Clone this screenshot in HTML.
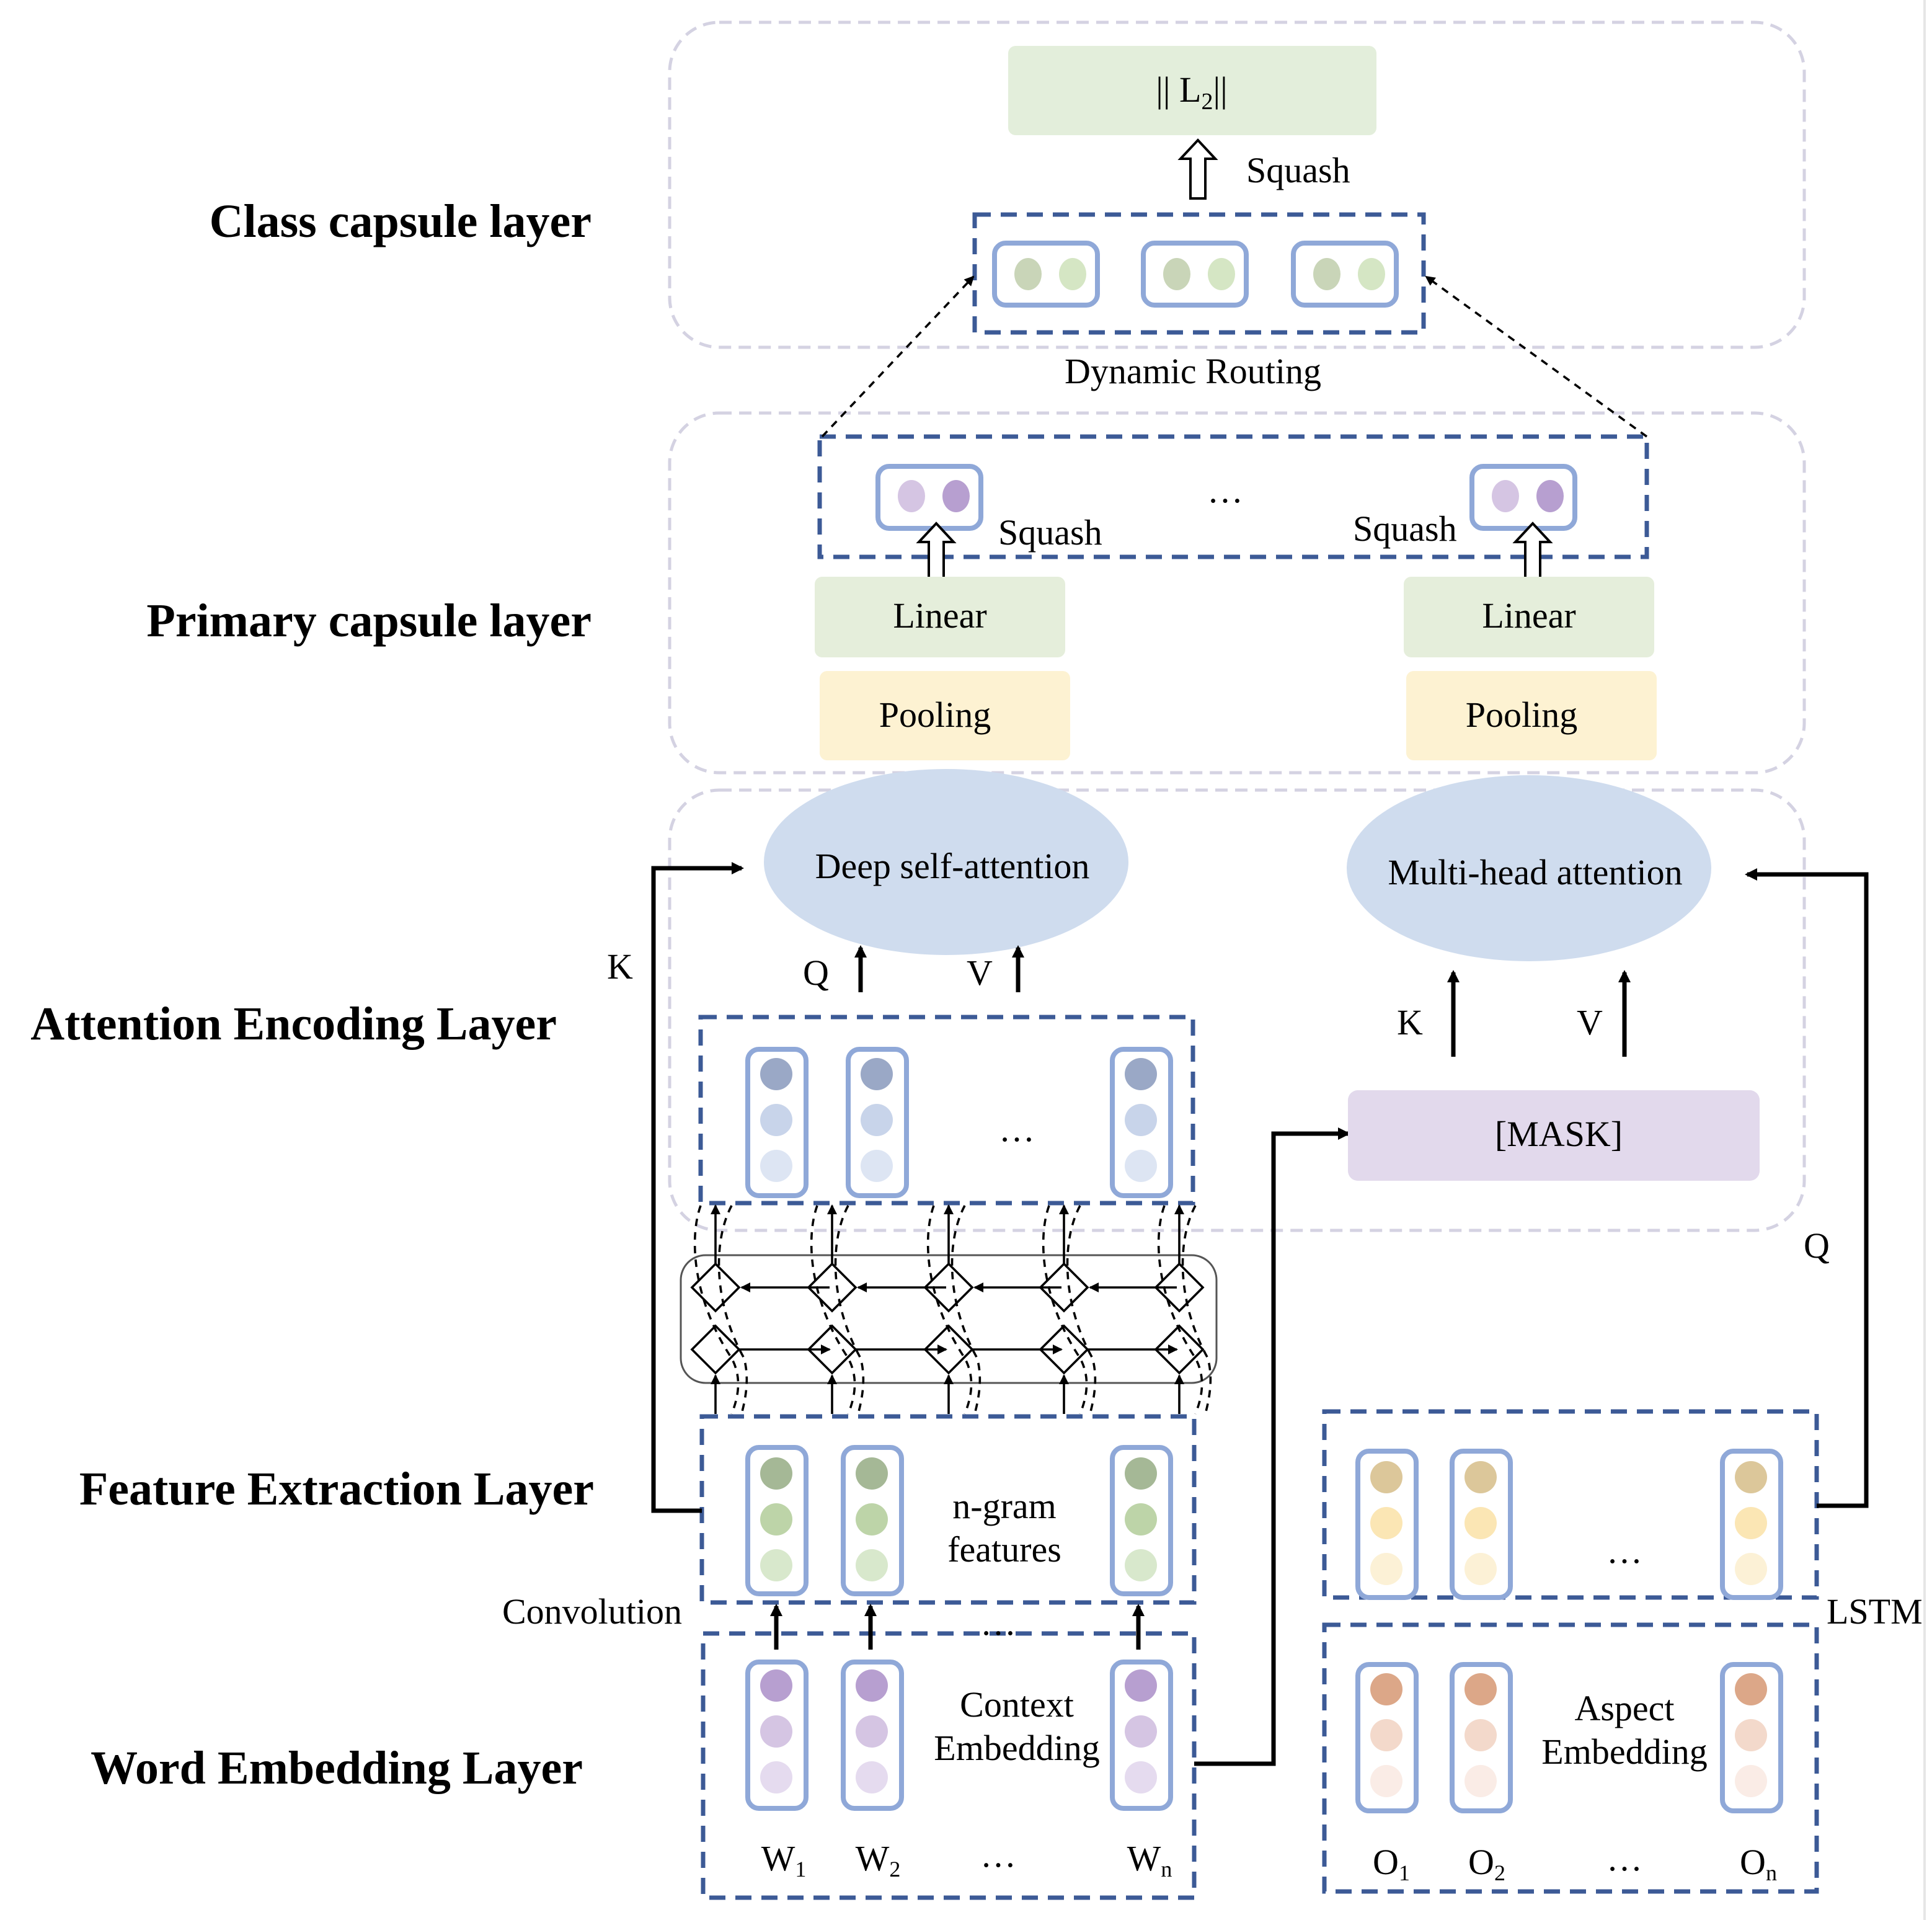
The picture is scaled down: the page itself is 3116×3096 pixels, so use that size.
<!DOCTYPE html>
<html><head><meta charset="utf-8"><style>
html,body{margin:0;padding:0;background:#fff;}
svg{display:block;}
text{font-family:"Liberation Serif",serif;fill:#000;}
.lbl{font-weight:bold;font-size:38px;text-anchor:end;}
.t{font-size:29px;text-anchor:middle;}
</style></head><body>
<svg width="3116" height="3096" viewBox="0 0 1558 1548" xmlns="http://www.w3.org/2000/svg">
<defs>
<marker id="ah" markerWidth="10" markerHeight="10" refX="8" refY="5" orient="auto" markerUnits="userSpaceOnUse"><path d="M0,0 L10,5 L0,10 z" fill="#000"/></marker>
<marker id="as" markerWidth="8" markerHeight="8" refX="7" refY="4" orient="auto" markerUnits="userSpaceOnUse"><path d="M0,0 L8,4 L0,8 z" fill="#000"/></marker>
</defs>
<g fill="none" stroke="#d4d2e2" stroke-width="2.5" stroke-dasharray="10 6">
<rect x="540" y="18" width="915" height="262" rx="40"/>
<rect x="540" y="333" width="915" height="290" rx="40"/>
<rect x="540" y="637" width="915" height="355" rx="40"/>
</g>
<line x1="1552" y1="0" x2="1552" y2="1548" stroke="#e6e6e6" stroke-width="2"/>
<text class="lbl" x="477" y="191">Class capsule layer</text>
<text class="lbl" x="477" y="513">Primary capsule layer</text>
<text class="lbl" x="449" y="838">Attention Encoding Layer</text>
<text class="lbl" x="479" y="1213">Feature Extraction Layer</text>
<text class="lbl" x="470" y="1438">Word Embedding Layer</text>

<rect x="813" y="37" width="297" height="72" rx="6" fill="#e3eedb"/>
<text class="t" x="961" y="82">|| L<tspan font-size="19" dy="6">2</tspan><tspan dy="-6">||</tspan></text>
<path d="M966,113 L980,128 L972,128 L972,160 L960,160 L960,128 L952,128 Z" fill="#fff" stroke="#000" stroke-width="2"/>
<text x="1005" y="147" font-size="29">Squash</text>
<g fill="none" stroke="#3c5a96" stroke-width="3.5" stroke-dasharray="13 8">
<rect x="786" y="173" width="362" height="95"/>
<rect x="661" y="352" width="667" height="97"/>
<rect x="565" y="820" width="397" height="150"/>
<rect x="566" y="1142" width="397" height="150"/>
<rect x="567" y="1317" width="396" height="213"/>
<rect x="1068" y="1138" width="397" height="150"/>
<rect x="1068" y="1310" width="397" height="215"/>
</g>
<g>
<rect x="802" y="196" width="83" height="50" rx="9" fill="#fff" stroke="#8fa8d8" stroke-width="4"/>
<rect x="922" y="196" width="83" height="50" rx="9" fill="#fff" stroke="#8fa8d8" stroke-width="4"/>
<rect x="1043" y="196" width="83" height="50" rx="9" fill="#fff" stroke="#8fa8d8" stroke-width="4"/>
<ellipse cx="829" cy="221" rx="11" ry="13" fill="#c9d5b8"/><ellipse cx="865" cy="221" rx="11" ry="13" fill="#d5e6c4"/>
<ellipse cx="949" cy="221" rx="11" ry="13" fill="#c9d5b8"/><ellipse cx="985" cy="221" rx="11" ry="13" fill="#d5e6c4"/>
<ellipse cx="1070" cy="221" rx="11" ry="13" fill="#c9d5b8"/><ellipse cx="1106" cy="221" rx="11" ry="13" fill="#d5e6c4"/>
</g>
<text class="t" x="962" y="309">Dynamic Routing</text>
<line x1="663" y1="352" x2="785" y2="223" stroke="#000" stroke-width="1.8" stroke-dasharray="6 5" marker-end="url(#as)"/>
<line x1="1328" y1="352" x2="1150" y2="223" stroke="#000" stroke-width="1.8" stroke-dasharray="6 5" marker-end="url(#as)"/>

<rect x="708" y="376" width="83" height="50" rx="9" fill="#fff" stroke="#8fa8d8" stroke-width="4"/>
<rect x="1187" y="376" width="83" height="50" rx="9" fill="#fff" stroke="#8fa8d8" stroke-width="4"/>
<ellipse cx="735" cy="400" rx="11" ry="13" fill="#d5c5e3"/><ellipse cx="771" cy="400" rx="11" ry="13" fill="#b79fd0"/>
<ellipse cx="1214" cy="400" rx="11" ry="13" fill="#d5c5e3"/><ellipse cx="1250" cy="400" rx="11" ry="13" fill="#b79fd0"/>
<path d="M755,422 L769,437 L761,437 L761,468 L749,468 L749,437 L741,437 Z" fill="#fff" stroke="#000" stroke-width="2"/>
<path d="M1236,422 L1250,437 L1242,437 L1242,468 L1230,468 L1230,437 L1222,437 Z" fill="#fff" stroke="#000" stroke-width="2"/>
<text x="805" y="439" font-size="29">Squash</text>
<text x="1091" y="436" font-size="29">Squash</text>
<text class="t" x="988" y="405">…</text>
<rect x="657" y="465" width="202" height="65" rx="6" fill="#e5eedb"/>
<rect x="1132" y="465" width="202" height="65" rx="6" fill="#e5eedb"/>
<text class="t" x="758" y="506">Linear</text><text class="t" x="1233" y="506">Linear</text>
<rect x="661" y="541" width="202" height="72" rx="6" fill="#fdf2d2"/>
<rect x="1134" y="541" width="202" height="72" rx="6" fill="#fdf2d2"/>
<text class="t" x="754" y="586">Pooling</text><text class="t" x="1227" y="586">Pooling</text>

<ellipse cx="763" cy="695" rx="147" ry="75" fill="#cfdcee"/>
<ellipse cx="1233" cy="700" rx="147" ry="75" fill="#cfdcee"/>
<text class="t" x="768" y="708">Deep self-attention</text>
<text class="t" x="1238" y="713">Multi-head attention</text>
<g stroke="#000" stroke-width="3.5" fill="none" marker-end="url(#ah)">
<line x1="694" y1="800" x2="694" y2="764"/>
<line x1="821" y1="800" x2="821" y2="764"/>
<line x1="1172" y1="852" x2="1172" y2="784"/>
<line x1="1310" y1="852" x2="1310" y2="784"/>
<polyline points="566,1218 527,1218 527,700 598,700"/>
<polyline points="963,1422 1027,1422 1027,914 1087,914"/>
<polyline points="1465,1214 1505,1214 1505,705 1409,705"/>
<line x1="626" y1="1330" x2="626" y2="1295"/>
<line x1="702" y1="1330" x2="702" y2="1295"/>
<line x1="918" y1="1330" x2="918" y2="1295"/>
</g>
<text class="t" x="658" y="794">Q</text><text class="t" x="790" y="794">V</text>
<text class="t" x="1137" y="834">K</text><text class="t" x="1282" y="834">V</text>
<text class="t" x="500" y="789">K</text>
<text class="t" x="1465" y="1014">Q</text>
<rect x="1087" y="879" width="332" height="73" rx="8" fill="#e2d9ec"/>
<text class="t" x="1257" y="924">[MASK]</text>

<g stroke="#8fa8d8" stroke-width="4" fill="#fff">
<rect x="603" y="846" width="47" height="118" rx="9"/><rect x="684" y="846" width="47" height="118" rx="9"/><rect x="897" y="846" width="47" height="118" rx="9"/>
<rect x="603" y="1167" width="47" height="118" rx="9"/><rect x="680" y="1167" width="47" height="118" rx="9"/><rect x="897" y="1167" width="47" height="118" rx="9"/>
<rect x="603" y="1340" width="47" height="118" rx="9"/><rect x="680" y="1340" width="47" height="118" rx="9"/><rect x="897" y="1340" width="47" height="118" rx="9"/>
<rect x="1095" y="1170" width="47" height="118" rx="9"/><rect x="1171" y="1170" width="47" height="118" rx="9"/><rect x="1389" y="1170" width="47" height="118" rx="9"/>
<rect x="1095" y="1342" width="47" height="118" rx="9"/><rect x="1171" y="1342" width="47" height="118" rx="9"/><rect x="1389" y="1342" width="47" height="118" rx="9"/>
</g>
<g>
<ellipse cx="626" cy="866" rx="13" ry="13" fill="#9aa8c6"/><ellipse cx="626" cy="903" rx="13" ry="13" fill="#c8d4ea"/><ellipse cx="626" cy="940" rx="13" ry="13" fill="#dde5f3"/>
<ellipse cx="707" cy="866" rx="13" ry="13" fill="#9aa8c6"/><ellipse cx="707" cy="903" rx="13" ry="13" fill="#c8d4ea"/><ellipse cx="707" cy="940" rx="13" ry="13" fill="#dde5f3"/>
<ellipse cx="920" cy="866" rx="13" ry="13" fill="#9aa8c6"/><ellipse cx="920" cy="903" rx="13" ry="13" fill="#c8d4ea"/><ellipse cx="920" cy="940" rx="13" ry="13" fill="#dde5f3"/>
<ellipse cx="626" cy="1188" rx="13" ry="13" fill="#a5b896"/><ellipse cx="626" cy="1225" rx="13" ry="13" fill="#bdd4a8"/><ellipse cx="626" cy="1262" rx="13" ry="13" fill="#d8e8cc"/>
<ellipse cx="703" cy="1188" rx="13" ry="13" fill="#a5b896"/><ellipse cx="703" cy="1225" rx="13" ry="13" fill="#bdd4a8"/><ellipse cx="703" cy="1262" rx="13" ry="13" fill="#d8e8cc"/>
<ellipse cx="920" cy="1188" rx="13" ry="13" fill="#a5b896"/><ellipse cx="920" cy="1225" rx="13" ry="13" fill="#bdd4a8"/><ellipse cx="920" cy="1262" rx="13" ry="13" fill="#d8e8cc"/>
<ellipse cx="626" cy="1359" rx="13" ry="13" fill="#b79fd0"/><ellipse cx="626" cy="1396" rx="13" ry="13" fill="#d5c5e3"/><ellipse cx="626" cy="1433" rx="13" ry="13" fill="#e5dbef"/>
<ellipse cx="703" cy="1359" rx="13" ry="13" fill="#b79fd0"/><ellipse cx="703" cy="1396" rx="13" ry="13" fill="#d5c5e3"/><ellipse cx="703" cy="1433" rx="13" ry="13" fill="#e5dbef"/>
<ellipse cx="920" cy="1359" rx="13" ry="13" fill="#b79fd0"/><ellipse cx="920" cy="1396" rx="13" ry="13" fill="#d5c5e3"/><ellipse cx="920" cy="1433" rx="13" ry="13" fill="#e5dbef"/>
<ellipse cx="1118" cy="1191" rx="13" ry="13" fill="#dcc79a"/><ellipse cx="1118" cy="1228" rx="13" ry="13" fill="#fbe6b4"/><ellipse cx="1118" cy="1265" rx="13" ry="13" fill="#fcf1d6"/>
<ellipse cx="1194" cy="1191" rx="13" ry="13" fill="#dcc79a"/><ellipse cx="1194" cy="1228" rx="13" ry="13" fill="#fbe6b4"/><ellipse cx="1194" cy="1265" rx="13" ry="13" fill="#fcf1d6"/>
<ellipse cx="1412" cy="1191" rx="13" ry="13" fill="#dcc79a"/><ellipse cx="1412" cy="1228" rx="13" ry="13" fill="#fbe6b4"/><ellipse cx="1412" cy="1265" rx="13" ry="13" fill="#fcf1d6"/>
<ellipse cx="1118" cy="1362" rx="13" ry="13" fill="#dca788"/><ellipse cx="1118" cy="1399" rx="13" ry="13" fill="#f3d9cb"/><ellipse cx="1118" cy="1436" rx="13" ry="13" fill="#faece6"/>
<ellipse cx="1194" cy="1362" rx="13" ry="13" fill="#dca788"/><ellipse cx="1194" cy="1399" rx="13" ry="13" fill="#f3d9cb"/><ellipse cx="1194" cy="1436" rx="13" ry="13" fill="#faece6"/>
<ellipse cx="1412" cy="1362" rx="13" ry="13" fill="#dca788"/><ellipse cx="1412" cy="1399" rx="13" ry="13" fill="#f3d9cb"/><ellipse cx="1412" cy="1436" rx="13" ry="13" fill="#faece6"/>
</g>
<text class="t" x="820" y="920">…</text>
<text class="t" x="810" y="1224">n-gram</text><text class="t" x="810" y="1259">features</text>
<text class="t" x="820" y="1384">Context</text><text class="t" x="820" y="1419">Embedding</text>
<text class="t" x="1310" y="1387">Aspect</text><text class="t" x="1310" y="1422">Embedding</text>
<text class="t" x="1310" y="1260">…</text>
<text class="t" x="805" y="1318">…</text>
<text x="550" y="1309" font-size="29" text-anchor="end">Convolution</text>
<text x="1473" y="1309" font-size="29">LSTM</text>
<text class="t" x="632" y="1508">W<tspan font-size="18" dy="5">1</tspan></text>
<text class="t" x="708" y="1508">W<tspan font-size="18" dy="5">2</tspan></text>
<text class="t" x="805" y="1505">…</text>
<text class="t" x="927" y="1508">W<tspan font-size="18" dy="5">n</tspan></text>
<text class="t" x="1122" y="1511">O<tspan font-size="18" dy="5">1</tspan></text>
<text class="t" x="1199" y="1511">O<tspan font-size="18" dy="5">2</tspan></text>
<text class="t" x="1310" y="1508">…</text>
<text class="t" x="1418" y="1511">O<tspan font-size="18" dy="5">n</tspan></text>

<rect x="549" y="1012" width="432" height="103" rx="20" fill="none" stroke="#555" stroke-width="1.5"/>
<g stroke="#000" stroke-width="1.8" fill="none">
<g id="col">
<path d="M577,1019 L596,1038 L577,1057 L558,1038 Z"/>
<path d="M577,1069 L596,1088 L577,1107 L558,1088 Z"/>
<line x1="577" y1="1019" x2="577" y2="972" marker-end="url(#as)"/>
<line x1="577" y1="1140" x2="577" y2="1109" marker-end="url(#as)"/>
<path d="M565,972 C555,1000 560,1050 590,1095 C598,1110 596,1125 590,1140" stroke-dasharray="6 5"/>
<path d="M590,972 C575,1000 575,1050 600,1095 C604,1110 602,1125 598,1140" stroke-dasharray="6 5"/>
</g>
<use href="#col" x="94"/><use href="#col" x="188"/><use href="#col" x="281"/><use href="#col" x="374"/>
<line x1="669" y1="1038" x2="598" y2="1038" marker-end="url(#as)"/>
<line x1="763" y1="1038" x2="692" y2="1038" marker-end="url(#as)"/>
<line x1="856" y1="1038" x2="786" y2="1038" marker-end="url(#as)"/>
<line x1="949" y1="1038" x2="879" y2="1038" marker-end="url(#as)"/>
<line x1="596" y1="1088" x2="669" y2="1088" marker-end="url(#as)"/>
<line x1="690" y1="1088" x2="763" y2="1088" marker-end="url(#as)"/>
<line x1="784" y1="1088" x2="856" y2="1088" marker-end="url(#as)"/>
<line x1="877" y1="1088" x2="949" y2="1088" marker-end="url(#as)"/>
</g>
</svg>
</body></html>
